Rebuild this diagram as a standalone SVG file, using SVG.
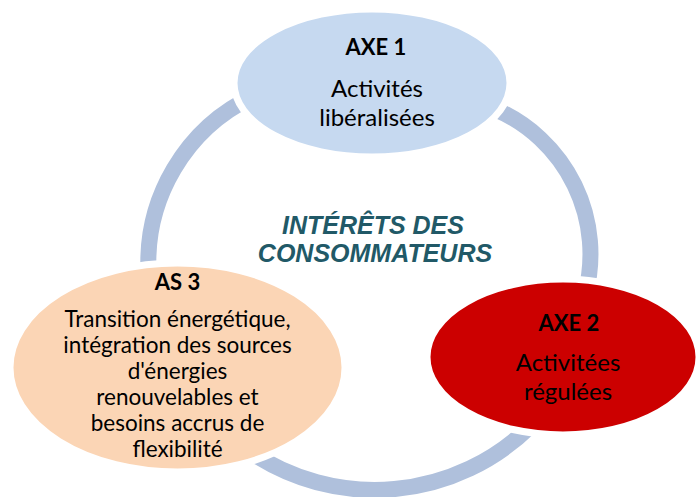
<svg xmlns="http://www.w3.org/2000/svg" width="700" height="497" viewBox="0 0 700 497">
  <style>
    .ring { fill: none; stroke: #AFC0DC; stroke-width: 16; }
    .node { stroke: #FFFFFF; stroke-width: 7; }
    .title { font-family: Lato, "Open Sans", sans-serif; font-weight: 700; font-size: 22px; fill: #000000; text-anchor: middle; }
    .body { font-family: Lato, "Open Sans", sans-serif; font-size: 24px; fill: #000000; text-anchor: middle; }
    .small { font-family: Lato, "Open Sans", sans-serif; font-size: 22.5px; fill: #000000; text-anchor: middle; }
    .center { font-family: "Liberation Sans", Arial, sans-serif; font-weight: 700; font-style: italic; font-size: 25px; fill: #215967; text-anchor: middle; }
  </style>
  <rect width="700" height="497" fill="#FFFFFF"/>
  <g id="connectors">
    <path id="arc-left" class="ring" d="M 148.8 275.3 A 184 184 0 0 1 255 95.6"/>
    <path id="arc-right" class="ring" d="M 495 109.1 A 158 158 0 0 1 585.1 295"/>
    <path id="arc-bottom" class="ring" d="M 530 426.5 A 222 222 0 0 1 250 451.7"/>
  </g>
  <g id="center-label">
    <text class="center" x="373" y="234">INTÉRÊTS DES</text>
    <text class="center" x="375" y="262">CONSOMMATEURS</text>
  </g>
  <g id="axe1">
    <ellipse class="node" cx="372" cy="83" rx="138" ry="74" fill="#C6D9F0"/>
    <text class="title" x="376" y="55">AXE 1</text>
    <text class="body" x="377" y="97">Activités</text>
    <text class="body" x="377" y="126">libéralisées</text>
  </g>
  <g id="axe2">
    <ellipse class="node" cx="563" cy="357" rx="136" ry="78" fill="#CC0000"/>
    <text class="title" x="569" y="331">AXE 2</text>
    <text class="body" x="568" y="371">Activitées</text>
    <text class="body" x="568" y="400">régulées</text>
  </g>
  <g id="as3">
    <ellipse class="node" cx="177.5" cy="367.5" rx="167.5" ry="104.5" fill="#FBD5B5"/>
    <text class="title" x="177.5" y="290">AS 3</text>
    <text class="small" x="177.5" y="327">Transition énergétique,</text>
    <text class="small" x="177.5" y="353">intégration des sources</text>
    <text class="small" x="177.5" y="379">d'énergies</text>
    <text class="small" x="177.5" y="405">renouvelables et</text>
    <text class="small" x="177.5" y="431">besoins accrus de</text>
    <text class="small" x="177.5" y="457">flexibilité</text>
  </g>
</svg>
